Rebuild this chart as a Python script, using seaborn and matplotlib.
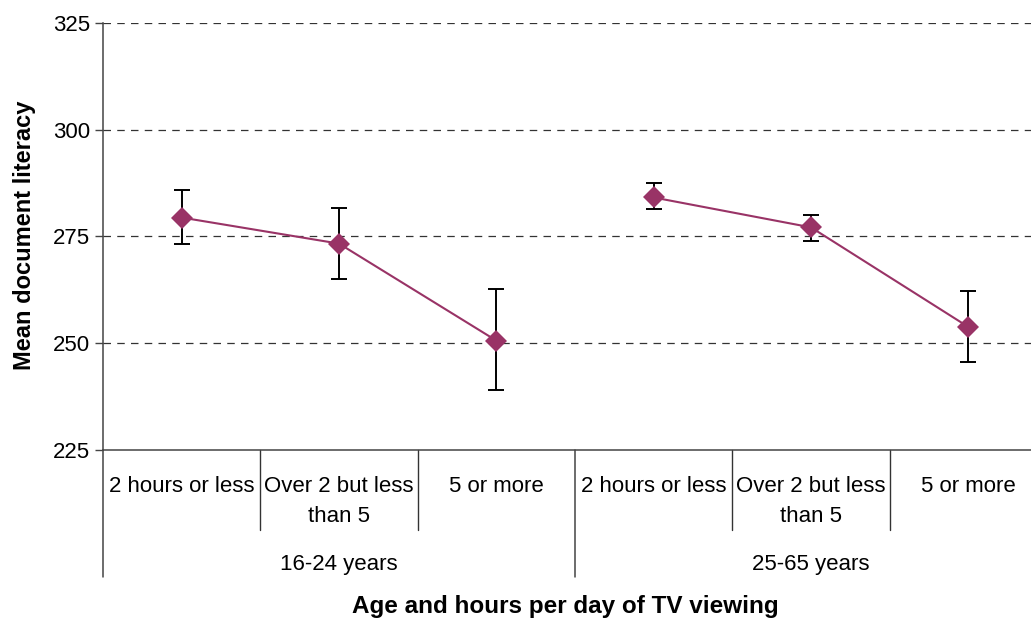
import numpy as np
import pandas as pd
import matplotlib
matplotlib.use("Agg")
import matplotlib.pyplot as plt
import seaborn as sns

# values
age_groups = ["16-24 years", "25-65 years"]
hours = ["2 hours or less", "Over 2 but less\nthan 5", "5 or more"]
mean_16_24 = [279.4, 273.3, 250.6]
mean_25_65 = [284.1, 277.1, 253.8]
upper_16_24 = [285.9, 281.7, 262.7]
upper_25_65 = [287.4, 279.9, 262.2]
lower_16_24 = [273.3, 265.0, 239.0]
lower_25_65 = [281.3, 273.9, 245.5]
y_ticks = [225, 250, 275, 300, 325]

color = "#993366"

df = pd.DataFrame({
    "age": np.repeat(age_groups, len(hours)),
    "hours": hours * len(age_groups),
    "score": mean_16_24 + mean_25_65,
    "upper": upper_16_24 + upper_25_65,
    "lower": lower_16_24 + lower_25_65,
})
df["pos"] = np.arange(len(df))

sns.set_theme(style="white")
plt.rcParams["font.family"] = ["Liberation Sans", "DejaVu Sans"]
plt.rcParams["text.color"] = "black"
plt.rcParams["xtick.color"] = "black"
plt.rcParams["ytick.color"] = "black"

fig = plt.figure(figsize=(10.31, 6.19), dpi=100)
# axes run past the right edge of the picture, as in the reference
ax = fig.add_axes([103 / 1031, (619 - 450) / 619, 944 / 1031, 427.3 / 619])

# dashed grid
for v in y_ticks[1:]:
    ax.axhline(v, color="#333333", lw=0.9, ls=(0, (6, 5)), zorder=1)

# error bars
ax.errorbar(df["pos"], df["score"],
            yerr=[df["score"] - df["lower"], df["upper"] - df["score"]],
            fmt="none", ecolor="black", elinewidth=1.4, capsize=5.5, capthick=1.4, zorder=2)

# one line per age group
for g in age_groups:
    sns.lineplot(data=df[df["age"] == g], x="pos", y="score", ax=ax, color=color,
                 lw=1.5, marker="D", markersize=11, markeredgewidth=0, zorder=3,
                 estimator=None, legend=False)

ax.set_xlim(-0.5, len(df) - 0.5)
ax.set_ylim(y_ticks[0], y_ticks[-1])
ax.set_yticks(y_ticks)
ax.tick_params(axis="y", labelsize=16, length=6, width=1, color="#444444", pad=3,
               left=True, direction="out", labelcolor="black")
ax.set_xticks(df["pos"], df["hours"], fontsize=16, linespacing=1.6)
ax.tick_params(axis="x", length=0, pad=18.5, labelcolor="black")
ax.set_xlabel("")
ax.set_ylabel("")

for s in ["top", "right"]:
    ax.spines[s].set_visible(False)
for s in ["left", "bottom"]:
    ax.spines[s].set_color("#444444")
    ax.spines[s].set_linewidth(1.1)

# category dividers below the axis
trans = ax.get_xaxis_transform()
for x in [0.5, 1.5, 3.5, 4.5]:
    ax.plot([x, x], [0, -0.187], transform=trans, color="#333333", lw=1, clip_on=False)
for x in [-0.5, 2.5, 5.5]:
    ax.plot([x, x], [0, -0.297], transform=trans, color="#444444", lw=1.1, clip_on=False)

# age group labels
for i, g in enumerate(age_groups):
    ax.text(i * len(hours) + (len(hours) - 1) / 2, -0.267, g, transform=trans,
            ha="center", va="center", fontsize=16)

fig.text(565 / 1031, 1 - 607 / 619, "Age and hours per day of TV viewing",
         ha="center", va="center", fontsize=17.5, fontweight="bold")
fig.text(25 / 1031, 1 - 235 / 619, "Mean document literacy", rotation=90,
         ha="center", va="center", fontsize=17, fontweight="bold")

fig.savefig("out.png", dpi=100)
